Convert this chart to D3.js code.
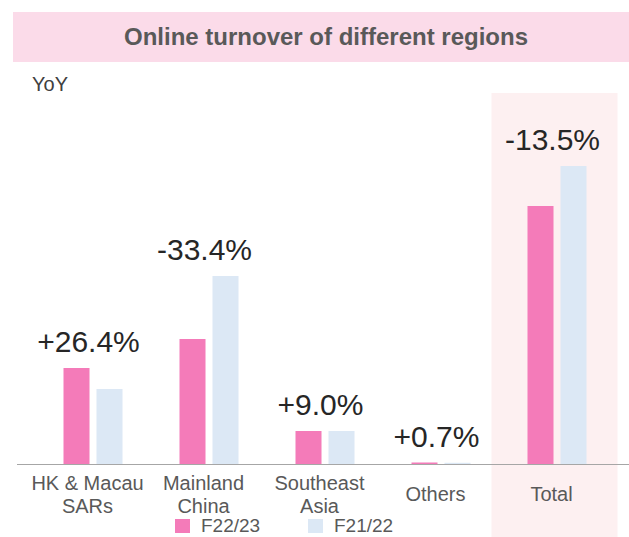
<!DOCTYPE html>
<html>
<head>
<style>
body { margin: 0; background: #ffffff; }
text { font-family: "Liberation Sans", Arial, sans-serif; }
</style>
</head>
<body>
<script src="https://cdn.jsdelivr.net/npm/d3@7"></script>
<script>
// online turnover by region, two fiscal years
var categories = ["HK & Macau|SARs", "Mainland|China", "Southeast|Asia", "Others", "Total"];
var seriesNames = ["F22/23", "F21/22"];
var f2223 = [96, 125, 33, 1.5, 258];
var f2122 = [75, 188, 33, 1.2, 298];
var yoyLabels = ["+26.4%", "-33.4%", "+9.0%", "+0.7%", "-13.5%"];

var svgWidth = 629
var svgHeight = 537

var svg = d3.select("body").append("svg")
	.attr("width", svgWidth)
	.attr("height", svgHeight);

var pink = "#f47bb9"
var blue = "#dce8f5"

// title banner
svg.append("rect")
	.attr("x", 13)
	.attr("y", 12)
	.attr("width", 616)
	.attr("height", 50)
	.attr("fill", "#fbdbe9");

svg.append("text")
	.attr("x", 326)
	.attr("y", 45)
	.attr("text-anchor", "middle")
	.style("font-size", "24px")
	.style("font-weight", "bold")
	.attr("fill", "#595959")
	.text("Online turnover of different regions");

svg.append("text")
	.attr("x", 32)
	.attr("y", 91)
	.style("font-size", "20px")
	.attr("fill", "#404040")
	.text("YoY");

// scales
var baseY = 464
var x = d3.scaleBand()
	.domain(categories)
	.range([34.5, 614.5]);

var xInner = d3.scaleBand()
	.domain(seriesNames)
	.range([29, 88])
	.paddingInner(0.212);

var y = d3.scaleLinear()
	.domain([0, 300])
	.range([baseY, baseY - 300]);

// highlight behind total
svg.append("rect")
	.attr("x", x("Total") + 0.5 * x.bandwidth() - 65)
	.attr("y", 93)
	.attr("width", 126)
	.attr("height", svgHeight - 93)
	.attr("fill", "#fdf0f1");

var rows = categories.map(function(c, i) {
	return {cat: c, values: [f2223[i], f2122[i]], label: yoyLabels[i]};
});

// bars
var groups = svg.selectAll(".grp")
	.data(rows)
	.enter().append("g")
	.attr("class", "grp")
	.attr("transform", function(d) { return "translate(" + x(d.cat) + ",0)"; });

groups.selectAll("rect")
	.data(function(d) { return d.values.map(function(v, j) { return {name: seriesNames[j], v: v}; }); })
	.enter().append("rect")
	.attr("x", function(d) { return xInner(d.name); })
	.attr("width", xInner.bandwidth())
	.attr("y", function(d) { return y(d.v); })
	.attr("height", function(d) { return baseY - y(d.v); })
	.attr("fill", function(d, j) { return j == 0 ? pink : blue; });

// yoy labels above each group
groups.append("text")
	.attr("x", x.bandwidth() / 2 - 4)
	.attr("y", function(d) { return y(d3.max(d.values)) - 16; })
	.attr("text-anchor", "middle")
	.style("font-size", "30px")
	.attr("fill", "#262626")
	.text(function(d) { return d.label; });

// x axis
var axis = svg.append("g")
	.attr("transform", "translate(0," + baseY + ")")
	.call(d3.axisBottom(x).tickSize(0).tickFormat(""));

axis.select(".domain")
	.attr("d", "M17,0.5H629")
	.attr("stroke", "#a6a6a6");

axis.selectAll(".tick text").remove();

axis.selectAll(".tick").each(function(c) {
	var lines = c.split("|");
	var t = d3.select(this).append("text")
		.attr("text-anchor", "middle")
		.attr("fill", "#595959")
		.style("font-size", "20px");
	var top = lines.length == 1 ? 37 : 25.5
	lines.forEach(function(l, k) {
		t.append("tspan")
			.attr("x", -5)
			.attr("y", top + k * 23)
			.text(l);
	});
});

// legend (nudged up a little so the text is not clipped by the bottom edge)
var legend = svg.append("g");
var legendX = [175, 308]
seriesNames.forEach(function(s, j) {
	legend.append("rect")
		.attr("x", legendX[j])
		.attr("y", 519)
		.attr("width", 15)
		.attr("height", 14)
		.attr("fill", j == 0 ? pink : blue);
	legend.append("text")
		.attr("x", legendX[j] + 26)
		.attr("y", 532)
		.style("font-size", "19px")
		.attr("fill", "#595959")
		.text(s);
});
</script>
</body>
</html>
